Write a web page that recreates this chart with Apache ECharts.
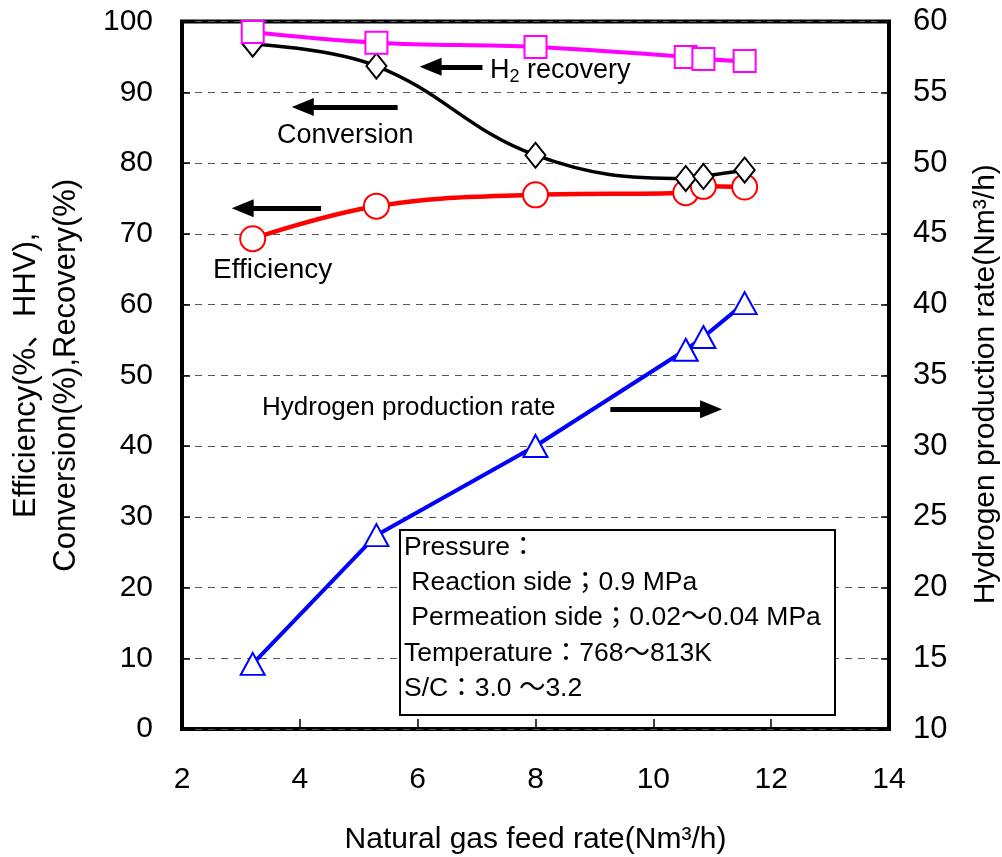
<!DOCTYPE html>
<html><head><meta charset="utf-8">
<script src="https://cdn.jsdelivr.net/npm/echarts@6/dist/echarts.min.js"></script>
<style>html,body{margin:0;padding:0;background:#fff}#c{width:1002px;height:857px}</style>
</head><body><div id="c"></div>
<script>
// ---- data ----
const feedRate     = [3.2, 5.3, 8.0, 10.55, 10.85, 11.55];   // Nm3/h
const efficiency   = [69.3, 73.9, 75.5, 75.8, 76.7, 76.6];   // %, left axis
const conversion   = [96.8, 93.7, 81.1, 77.8, 78.1, 79.0];   // %, left axis
const h2Recovery   = [98.5, 97.0, 96.4, 95.0, 94.7, 94.4];   // %, left axis
const h2Production = [14.6, 23.7, 30.0, 36.8, 37.7, 40.1];   // Nm3/h, right axis

const xRange     = {min: 2, max: 14, interval: 2};
const leftRange  = {min: 0, max: 100, interval: 10};
const rightRange = {min: 10, max: 60, interval: 5};

// annotation arrows in data coordinates (x, left-axis y)
const arrowFrom = [[7.10, 93.6], [5.66, 87.9], [4.36, 73.6], [9.27, 45.2]];
const arrowTo   = [[6.22, 93.6], [4.05, 87.9], [3.03, 73.6], [10.98, 45.2]];

const conditionLines = [
  'Pressure：',
  ' Reaction side；0.9 MPa',
  ' Permeation side；0.02～0.04 MPa',
  'Temperature：768～813K',
  'S/C：3.0 ～3.2'
];

const FONT = "'Liberation Sans', Arial, 'Noto Sans CJK JP', sans-serif";
const pairs = ys => feedRate.map((x, i) => [x, ys[i]]);

const chart = echarts.init(document.getElementById('c'), null, {renderer: 'canvas'});

function lineSeries(name, ys, color, symbol, size, width, yIdx, smooth, z) {
  return {
    name, type: 'line', data: pairs(ys), yAxisIndex: yIdx, smooth,
    symbol, symbolSize: size, showAllSymbol: true, z,
    itemStyle: {color: '#fff', borderColor: color, borderWidth: 2},
    lineStyle: {color, width},
    emphasis: {disabled: true}, animation: false
  };
}

const effSeries = lineSeries('Efficiency', efficiency, '#ff0000', 'circle', 25, 4.5, 0, 0.4, 2);
effSeries.markLine = {
  silent: true, animation: false,
  symbol: ['none', 'triangle'], symbolSize: [18, 22],
  label: {show: false},
  lineStyle: {color: '#000', width: 5, type: 'solid'},
  itemStyle: {color: '#000'},
  emphasis: {disabled: true},
  data: arrowFrom.map((f, i) => [{coord: f}, {coord: arrowTo[i]}])
};

const textStyleBase = {font: '27px ' + FONT, fill: '#000', verticalAlign: 'middle', align: 'left'};

const graphics = [
  {type: 'text', x: 490, y: 71, z: 50,
   style: {text: '{n|H}{s|2}{n| recovery}', fill: '#000', verticalAlign: 'middle', align: 'left',
     rich: {n: {fontSize: 27, fontFamily: FONT, lineHeight: 30, verticalAlign: 'middle'},
            s: {fontSize: 18, fontFamily: FONT, lineHeight: 14, verticalAlign: 'bottom'}}}},
  {type: 'text', x: 277, y: 136, z: 50, style: Object.assign({text: 'Conversion'}, textStyleBase)},
  {type: 'text', x: 213, y: 270, z: 50, style: Object.assign({text: 'Efficiency'}, textStyleBase, {font: '28px ' + FONT})},
  {type: 'text', x: 262, y: 408, z: 50, style: Object.assign({text: 'Hydrogen production rate'}, textStyleBase, {font: '26px ' + FONT})},
  {type: 'rect', z: 60, shape: {x: 400, y: 530, width: 435, height: 185},
   style: {fill: '#fff', stroke: '#000', lineWidth: 2}}
];
const lineX = [404, 404, 404, 404, 404];
const lineY = [548, 583, 618, 654, 689];
conditionLines.forEach((t, i) => {
  graphics.push({type: 'text', x: lineX[i], y: lineY[i], z: 61,
    style: {text: t, font: '26.5px ' + FONT, fill: '#000', verticalAlign: 'middle', align: 'left'}});
});

chart.setOption({
  animation: false,
  backgroundColor: '#fff',
  textStyle: {fontFamily: FONT},
  grid: {left: 182, right: 113, top: 21.5, bottom: 128, show: true,
         outerBoundsMode: 'none',
         borderColor: '#000', borderWidth: 4, backgroundColor: 'transparent', containLabel: false},
  xAxis: {
    type: 'value', min: xRange.min, max: xRange.max, interval: xRange.interval,
    name: 'Natural gas feed rate(Nm³/h)', nameLocation: 'middle', nameGap: 96,
    nameTextStyle: {fontSize: 30, color: '#000', fontFamily: FONT},
    axisLine: {show: false},
    axisTick: {show: true, inside: true, length: 10, lineStyle: {color: '#000', width: 1.5}},
    axisLabel: {fontSize: 30, color: '#000', margin: 36, fontFamily: FONT},
    splitLine: {show: false}
  },
  yAxis: [{
    type: 'value', position: 'left', min: leftRange.min, max: leftRange.max, interval: leftRange.interval,
    name: 'Efficiency(%、HHV),\nConversion(%),Recovery(%)', nameLocation: 'middle', nameGap: 96,
    nameTextStyle: {fontSize: 31, color: '#000', lineHeight: 40, fontFamily: FONT},
    axisLine: {show: false},
    axisTick: {show: true, inside: true, length: 8, lineStyle: {color: '#000', width: 1.5}},
    axisLabel: {fontSize: 30, color: '#000', margin: 29, fontFamily: FONT},
    splitLine: {show: true, lineStyle: {color: '#555', width: 1.2, type: [7, 6]}}
  }, {
    type: 'value', position: 'right', min: rightRange.min, max: rightRange.max, interval: rightRange.interval,
    name: 'Hydrogen production rate(Nm³/h)', nameLocation: 'middle', nameGap: 82,
    nameTextStyle: {fontSize: 30, color: '#000', fontFamily: FONT, padding: [0, 18, 0, 0]},
    axisLine: {show: false},
    axisTick: {show: true, inside: true, length: 8, lineStyle: {color: '#000', width: 1.5}},
    axisLabel: {fontSize: 31, color: '#000', margin: 24, fontFamily: FONT},
    splitLine: {show: false}
  }],
  series: [
    effSeries,
    lineSeries('Conversion', conversion, '#000000', 'diamond', [20, 25], 3.5, 0, 0.4, 3),
    lineSeries('H2 recovery', h2Recovery, '#ff00ff', 'rect', 22, 4, 0, 0.4, 4),
    lineSeries('Hydrogen production rate', h2Production, '#0000ff', 'triangle', [24, 22], 4, 1, false, 5)
  ],
  graphic: graphics
});
</script></body></html>
